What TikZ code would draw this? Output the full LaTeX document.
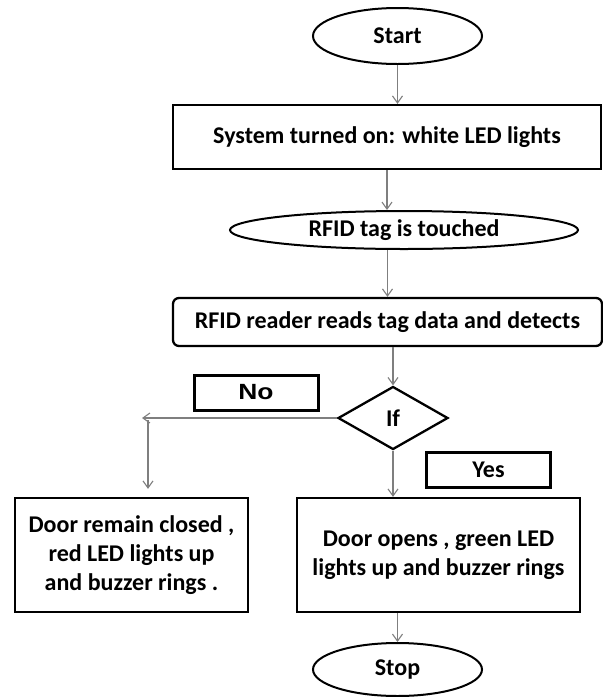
\documentclass[tikz,border=0pt]{standalone}
\usepackage{fontspec}
\setmainfont{Carlito}
\newfontfamily\headfont[FakeStretch=1.2]{Liberation Sans}
\usetikzlibrary{arrows.meta, shapes.geometric}
\definecolor{cline}{HTML}{7F7F7F}
\tikzset{
  every picture/.style={x=1pt, y=1pt, font=\fontsize{24}{29}\selectfont\bfseries},
  term/.style={ellipse, draw=black, line width=2pt, inner sep=0pt},
  proc/.style={rectangle, draw=black, line width=2.3pt, align=center, inner sep=0pt},
  tagbox/.style={rectangle, draw=black, line width=3pt, inner sep=0pt, minimum width=124pt, minimum height=35pt},
  arrow/.style={-{Straight Barb[length=7pt, width=10pt]}, draw=cline, line width=1.1pt},
}

\begin{document}
\begin{tikzpicture}
  \useasboundingbox (0,0) rectangle (603,-697);
  % main chain
  \node[term, minimum width=169pt, minimum height=56pt] (start) at (397.5,-36) {Start};
  \node[proc, minimum width=428pt, minimum height=64pt] (sys) at (387,-137) {System turned on: white LED lights};
  \node[term, minimum width=348pt, minimum height=38pt] (tag) at (404,-230) {RFID tag is touched};
  \node[proc, rounded corners=6pt, minimum width=429pt, minimum height=48pt] (reader) at (387.5,-322) {RFID reader reads tag data and detects};
  \node[diamond, draw=black, line width=2.3pt, inner sep=0pt, minimum width=110pt, minimum height=63pt] (ifd) at (393,-418) {If};
  % branch labels
  \node[tagbox, font=\headfont\fontsize{22}{22}\selectfont\bfseries] (no) at (256,-392.5) {No};
  \node[tagbox, font=\fontsize{24}{24}\selectfont\bfseries] (yes) at (488.5,-469.5) {Yes};
  % outcomes
  \node[proc, minimum width=233pt, minimum height=114pt] (closed) at (131.5,-555) {Door remain closed ,\\red LED lights up\\and buzzer rings .};
  \node[proc, minimum width=283pt, minimum height=114pt] (opens) at (438.5,-555) {Door opens , green LED\\lights up and buzzer rings};
  \node[term, minimum width=169pt, minimum height=53pt] (stop) at (397.5,-669.5) {Stop};
  % connectors
  \draw[arrow] (start.south) -- (start.south |- sys.north);
  \draw[arrow] (sys.south) -- (sys.south |- tag.north);
  \draw[arrow] (reader.north |- tag.south) -- (reader.north);
  \draw[arrow] (ifd.north |- reader.south) -- (ifd.north);
  \draw[arrow] (ifd.south) -- (ifd.south |- opens.north);
  \draw[arrow] (stop.north |- opens.south) -- (stop.north);
  \coordinate (noend) at (142,-418);
  \coordinate (nocorner) at (148,-420);
  \draw[arrow] (ifd.west) -- (noend);
  \draw[arrow, shorten >=8pt] (nocorner) -- (nocorner |- closed.north);
\end{tikzpicture}
\end{document}
